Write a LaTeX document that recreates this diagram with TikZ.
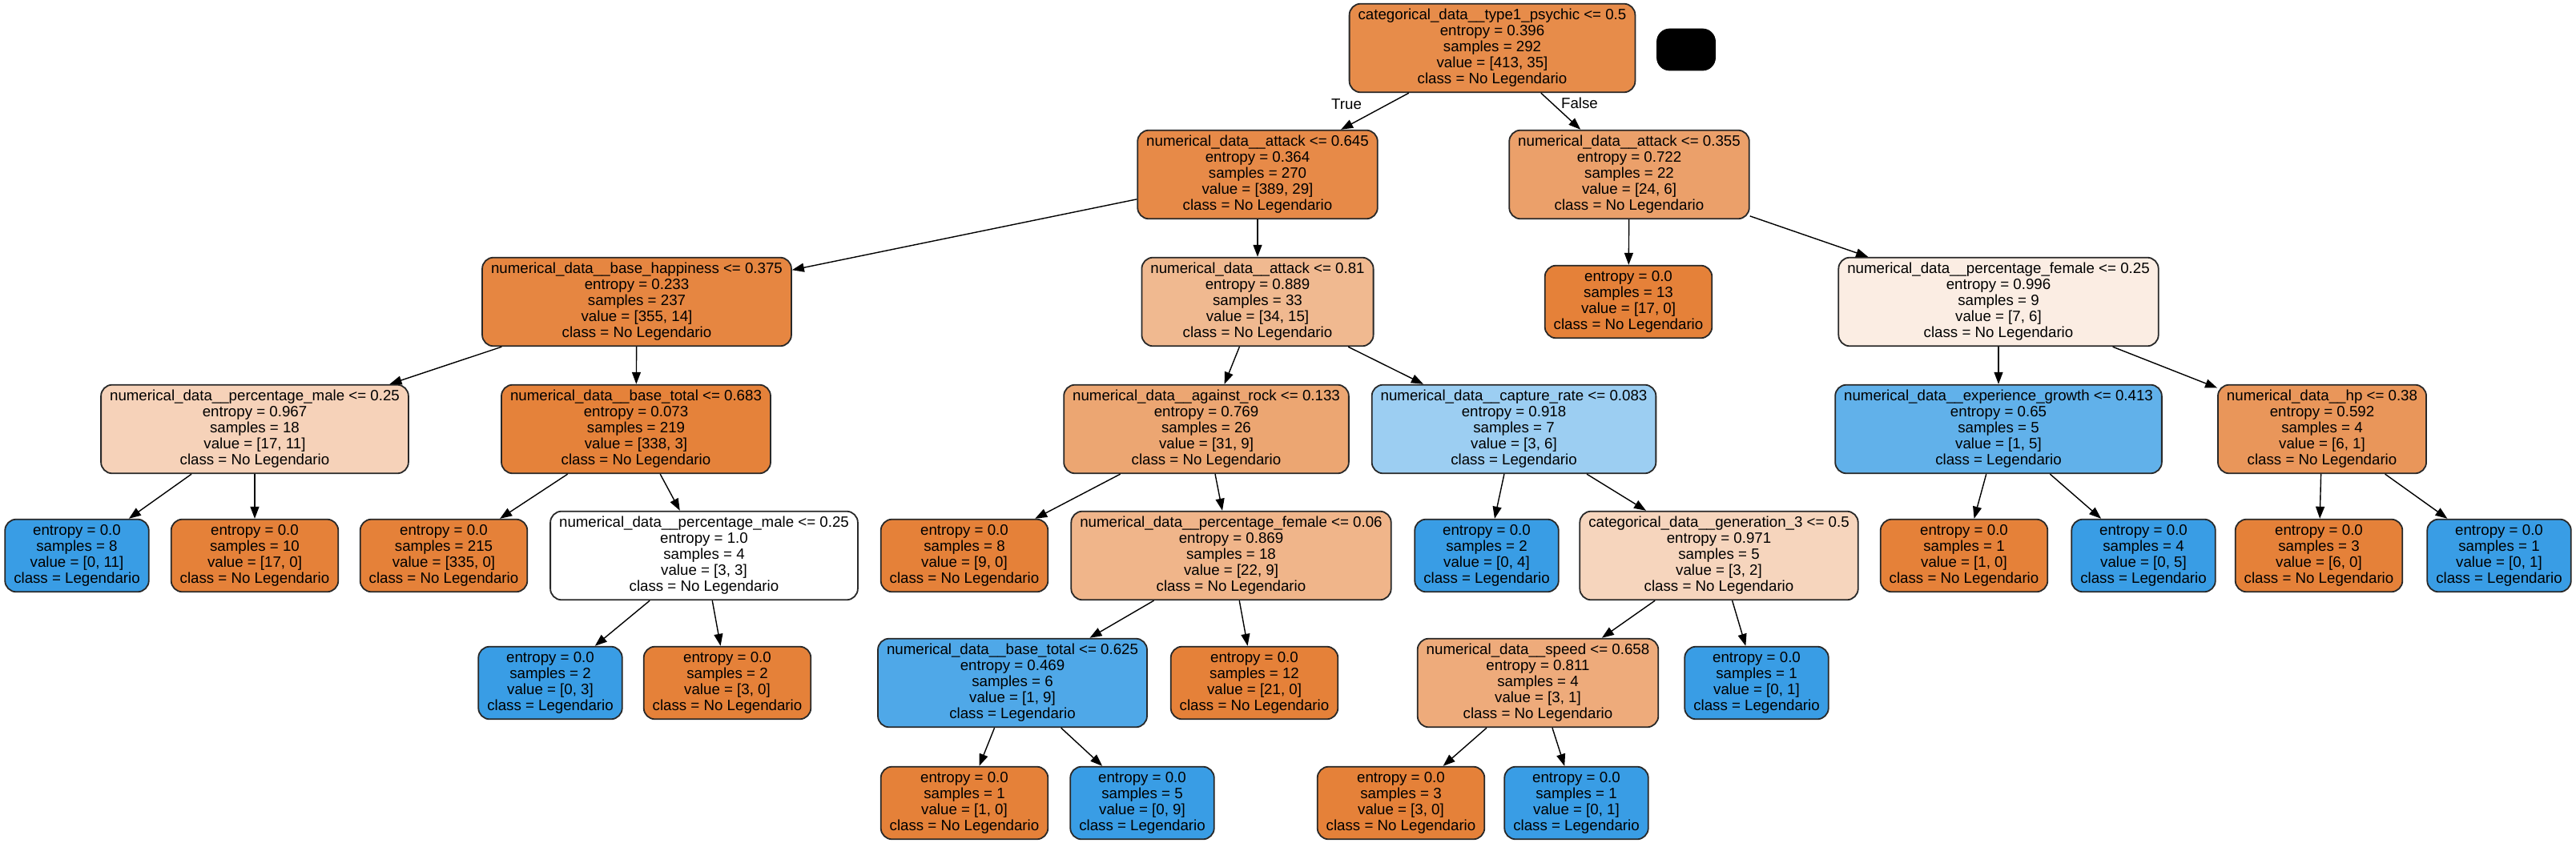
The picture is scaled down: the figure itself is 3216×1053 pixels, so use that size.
\documentclass[tikz,border=0pt]{standalone}
\usepackage{fontspec}
\setmainfont{Liberation Sans}
\usetikzlibrary{arrows.meta}
\definecolor{cor}{RGB}{229,129,57}
\definecolor{cbl}{RGB}{57,157,229}
\definecolor{cA}{RGB}{231,140,74}
\definecolor{cB}{RGB}{231,138,72}
\definecolor{cC}{RGB}{235,160,106}
\definecolor{cD}{RGB}{230,134,65}
\definecolor{cE}{RGB}{240,185,144}
\definecolor{cF}{RGB}{251,237,227}
\definecolor{cG}{RGB}{246,210,185}
\definecolor{cH}{RGB}{229,130,58}
\definecolor{cI}{RGB}{236,166,114}
\definecolor{cJ}{RGB}{156,206,242}
\definecolor{cK}{RGB}{97,177,234}
\definecolor{cL}{RGB}{233,150,90}
\definecolor{cM}{RGB}{240,181,138}
\definecolor{cN}{RGB}{246,213,189}
\definecolor{cO}{RGB}{79,168,232}
\definecolor{cP}{RGB}{238,171,123}
\definecolor{edgec}{RGB}{40,40,40}
\tikzset{
  tn/.style={draw=edgec, line width=0.9pt, rounded corners=7pt, align=center,
    font=\fontsize{9.35}{10}\selectfont, inner xsep=5.5pt, inner ysep=0pt,
    minimum height=55.3pt},
  lf/.style={tn, minimum height=45.3pt},
  lbl/.style={font=\fontsize{9.35}{10}\selectfont, inner sep=0pt},
  ed/.style={draw=black, line width=0.7pt, -{Triangle[length=7.5pt,width=5.5pt]}}
}
\newcommand{\NL}{class = No Legendario}
\newcommand{\LG}{class = Legendario}
\begin{document}
\begin{tikzpicture}[x=0.5pt,y=-0.5pt]
\useasboundingbox (0,0) rectangle (3216,1053);
% row 0
\node[tn, fill=cA] (n0) at (1863,60) {categorical\_data\_\_type1\_psychic <= 0.5\\entropy = 0.396\\samples = 292\\value = [413, 35]\\\NL};
\node[draw=black, fill=black, rounded corners=8pt, minimum width=36.5pt, minimum height=26pt, inner sep=0pt] (blk) at (2105,62) {};
% row 1
\node[tn, fill=cB] (n1) at (1570,218) {numerical\_data\_\_attack <= 0.645\\entropy = 0.364\\samples = 270\\value = [389, 29]\\\NL};
\node[tn, fill=cC] (n2) at (2034,218) {numerical\_data\_\_attack <= 0.355\\entropy = 0.722\\samples = 22\\value = [24, 6]\\\NL};
% row 2
\node[tn, fill=cD] (n3) at (795,377) {numerical\_data\_\_base\_happiness <= 0.375\\entropy = 0.233\\samples = 237\\value = [355, 14]\\\NL};
\node[tn, fill=cE] (n4) at (1570,377) {numerical\_data\_\_attack <= 0.81\\entropy = 0.889\\samples = 33\\value = [34, 15]\\\NL};
\node[lf, fill=cor] (n5) at (2033,377) {entropy = 0.0\\samples = 13\\value = [17, 0]\\\NL};
\node[tn, fill=cF] (n6) at (2495,377) {numerical\_data\_\_percentage\_female <= 0.25\\entropy = 0.996\\samples = 9\\value = [7, 6]\\\NL};
% row 3
\node[tn, fill=cG] (n7) at (318,536) {numerical\_data\_\_percentage\_male <= 0.25\\entropy = 0.967\\samples = 18\\value = [17, 11]\\\NL};
\node[tn, fill=cH] (n8) at (794,536) {numerical\_data\_\_base\_total <= 0.683\\entropy = 0.073\\samples = 219\\value = [338, 3]\\\NL};
\node[tn, fill=cI] (n9) at (1506,536) {numerical\_data\_\_against\_rock <= 0.133\\entropy = 0.769\\samples = 26\\value = [31, 9]\\\NL};
\node[tn, fill=cJ] (n10) at (1890,536) {numerical\_data\_\_capture\_rate <= 0.083\\entropy = 0.918\\samples = 7\\value = [3, 6]\\\LG};
\node[tn, fill=cK] (n11) at (2495,536) {numerical\_data\_\_experience\_growth <= 0.413\\entropy = 0.65\\samples = 5\\value = [1, 5]\\\LG};
\node[tn, fill=cL] (n12) at (2899,536) {numerical\_data\_\_hp <= 0.38\\entropy = 0.592\\samples = 4\\value = [6, 1]\\\NL};
% row 4
\node[lf, fill=cbl] (n13) at (96,694) {entropy = 0.0\\samples = 8\\value = [0, 11]\\\LG};
\node[lf, fill=cor] (n14) at (318,694) {entropy = 0.0\\samples = 10\\value = [17, 0]\\\NL};
\node[lf, fill=cor] (n15) at (554,694) {entropy = 0.0\\samples = 215\\value = [335, 0]\\\NL};
\node[tn, fill=white] (n16) at (879,694) {numerical\_data\_\_percentage\_male <= 0.25\\entropy = 1.0\\samples = 4\\value = [3, 3]\\\NL};
\node[lf, fill=cor] (n17) at (1204,694) {entropy = 0.0\\samples = 8\\value = [9, 0]\\\NL};
\node[tn, fill=cM] (n18) at (1537,694) {numerical\_data\_\_percentage\_female <= 0.06\\entropy = 0.869\\samples = 18\\value = [22, 9]\\\NL};
\node[lf, fill=cbl] (n19) at (1856,694) {entropy = 0.0\\samples = 2\\value = [0, 4]\\\LG};
\node[tn, fill=cN] (n20) at (2146,694) {categorical\_data\_\_generation\_3 <= 0.5\\entropy = 0.971\\samples = 5\\value = [3, 2]\\\NL};
\node[lf, fill=cor] (n21) at (2452,694) {entropy = 0.0\\samples = 1\\value = [1, 0]\\\NL};
\node[lf, fill=cbl] (n22) at (2676,694) {entropy = 0.0\\samples = 4\\value = [0, 5]\\\LG};
\node[lf, fill=cor] (n23) at (2895,694) {entropy = 0.0\\samples = 3\\value = [6, 0]\\\NL};
\node[lf, fill=cbl] (n24) at (3120,694) {entropy = 0.0\\samples = 1\\value = [0, 1]\\\LG};
% row 5
\node[lf, fill=cbl] (n25) at (687,853) {entropy = 0.0\\samples = 2\\value = [0, 3]\\\LG};
\node[lf, fill=cor] (n26) at (908,853) {entropy = 0.0\\samples = 2\\value = [3, 0]\\\NL};
\node[tn, fill=cO] (n27) at (1264,853) {numerical\_data\_\_base\_total <= 0.625\\entropy = 0.469\\samples = 6\\value = [1, 9]\\\LG};
\node[lf, fill=cor] (n28) at (1566,853) {entropy = 0.0\\samples = 12\\value = [21, 0]\\\NL};
\node[tn, fill=cP] (n29) at (1920,853) {numerical\_data\_\_speed <= 0.658\\entropy = 0.811\\samples = 4\\value = [3, 1]\\\NL};
\node[lf, fill=cbl] (n30) at (2193,853) {entropy = 0.0\\samples = 1\\value = [0, 1]\\\LG};
% row 6
\node[lf, fill=cor] (n31) at (1204,1003) {entropy = 0.0\\samples = 1\\value = [1, 0]\\\NL};
\node[lf, fill=cbl] (n32) at (1426,1003) {entropy = 0.0\\samples = 5\\value = [0, 9]\\\LG};
\node[lf, fill=cor] (n33) at (1749,1003) {entropy = 0.0\\samples = 3\\value = [3, 0]\\\NL};
\node[lf, fill=cbl] (n34) at (1968,1003) {entropy = 0.0\\samples = 1\\value = [0, 1]\\\LG};
% labels
\node[lbl] (ltrue) at (1681,130) {True};
\node[lbl] (lfalse) at (1972,129) {False};
% edges
\foreach \a/\b in {n0/n1,n0/n2,n1/n3,n1/n4,n2/n5,n2/n6,n3/n7,n3/n8,n4/n9,n4/n10,n6/n11,n6/n12,
  n7/n13,n7/n14,n8/n15,n8/n16,n9/n17,n9/n18,n10/n19,n10/n20,n11/n21,n11/n22,n12/n23,n12/n24,
  n16/n25,n16/n26,n18/n27,n18/n28,n20/n29,n20/n30,n27/n31,n27/n32,n29/n33,n29/n34}
  \draw[ed] (\a) -- (\b);
\end{tikzpicture}
\end{document}
